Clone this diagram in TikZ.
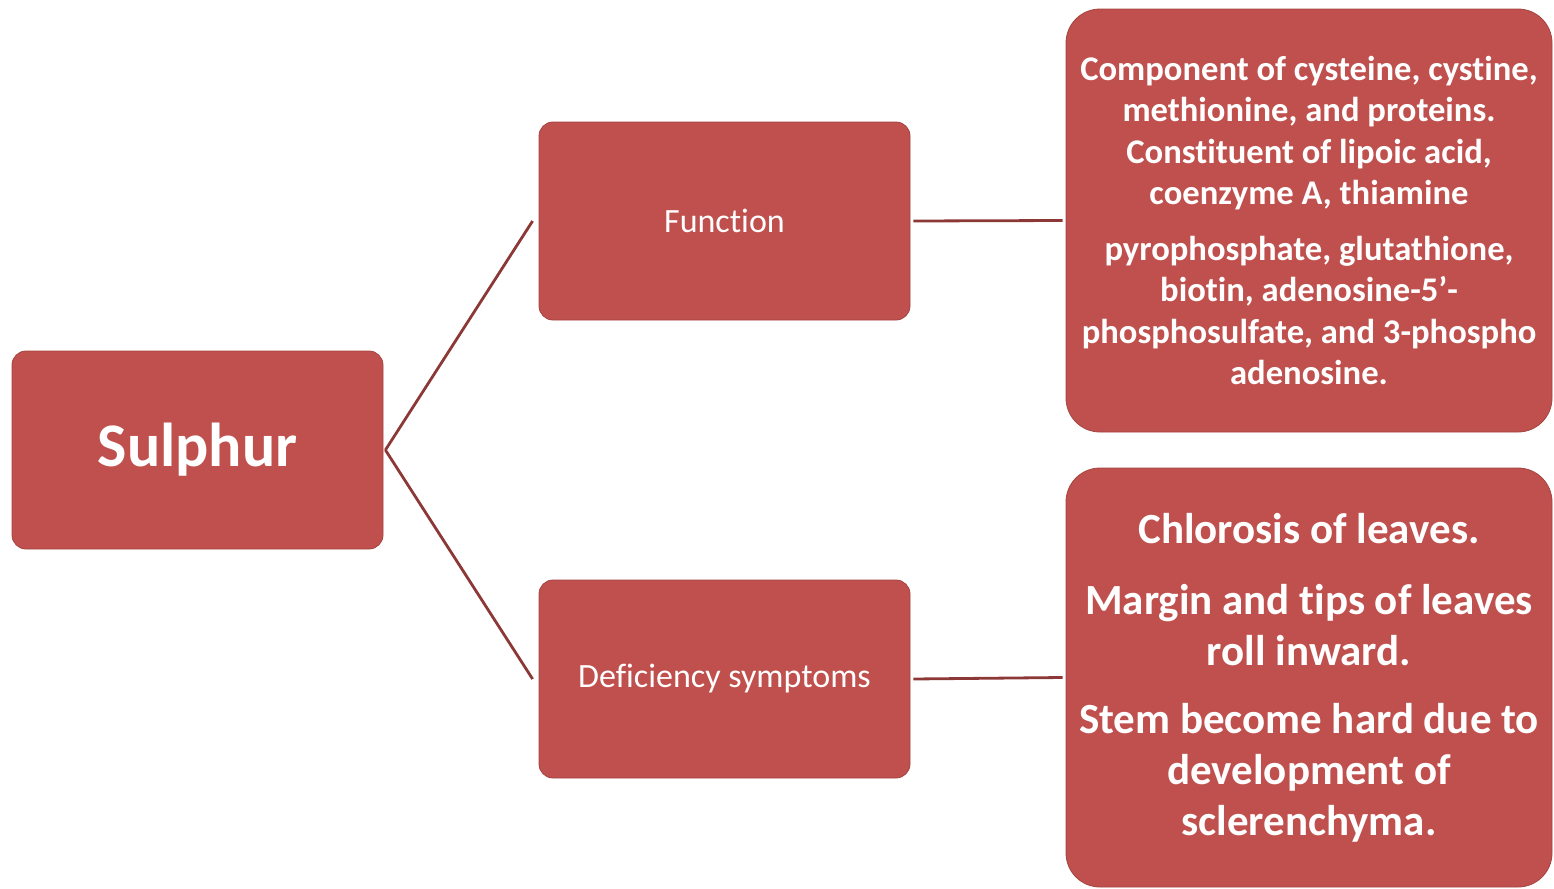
\documentclass[tikz,border=0pt]{standalone}
\usepackage{fontspec}
\setmainfont{Carlito}[Ligatures=NoCommon]
\begin{document}
\definecolor{boxred}{HTML}{C0504D}
\definecolor{linkred}{HTML}{8C3836}
\begin{tikzpicture}[x=0.5pt,y=-0.5pt,
  box/.style={fill=boxred,draw=boxred!85!black,line width=0.4pt,text=white,
    align=center,inner sep=0pt},
  small/.style={box,rounded corners=7pt,minimum width=185.5pt,minimum height=99pt},
  large/.style={box,rounded corners=17pt,minimum width=243pt},
  link/.style={draw=linkred,line width=1.4pt}]
\useasboundingbox (0,0) rectangle (1554,889);
% root
\node[small,font=\fontsize{31}{36}\selectfont\bfseries]
  (root) at (197.5,450) {Sulphur};
% branches
\node[small,font=\fontsize{17}{20}\selectfont]
  (func) at (724.5,221) {Function};
\node[small,font=\fontsize{17}{20}\selectfont]
  (defi) at (724.5,679) {Deficiency symptoms};
% leaves
\node[large,minimum height=211.5pt,font=\fontsize{17.3}{20.8}\selectfont\bfseries]
  (ftext) at (1309,220.5) {Component of cysteine, cystine,\\ methionine, and proteins.\\
  Constituent of lipoic acid,\\ coenzyme A, thiamine\\[6.8pt]
  pyrophosphate, glutathione,\\ biotin, adenosine-5'-\\
  phosphosulfate, and 3-phospho\\ adenosine.};
\node[large,minimum height=209.5pt,font=\fontsize{21.5}{25.5}\selectfont\bfseries]
  (dtext) at (1309,677.5) {Chlorosis of leaves.\\[10pt]
  Margin and tips of leaves\\ roll inward.\\[8.5pt]
  Stem become hard due to\\ development of\\ sclerenchyma.};
% connectors
\draw[link] ([xshift=1pt]root.east) -- ([xshift=-3pt]func.west);
\draw[link] ([xshift=1pt]root.east) -- ([xshift=-3pt]defi.west);
\draw[link] ([xshift=1.5pt]func.east) -- ([xshift=-1.5pt]ftext.west);
\draw[link] ([xshift=1.5pt]defi.east) -- ([xshift=-1.5pt]dtext.west);
\end{tikzpicture}
\end{document}
